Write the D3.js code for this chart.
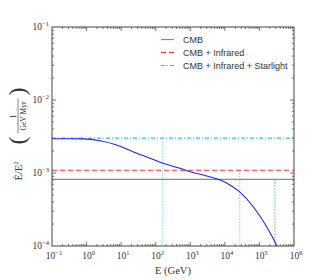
<!DOCTYPE html>
<html>
<head>
<meta charset="utf-8">
<script src="https://cdn.jsdelivr.net/npm/d3@7"></script>
<style>
  body { margin: 0; background: #fff; }
  text { fill: #333; }
</style>
</head>
<body>
<svg id="chart"></svg>
<script>
// chart size
const width = 320;
const height = 280;
const margin = { top: 27, right: 26, bottom: 34, left: 52 };

// energy loss curve (log10 E, log10 value)
const curveLogE = [-1, -0.5, -0.1, 0.39, 0.87, 1.34, 1.84, 2.21, 2.7, 3.0, 3.4, 3.81, 4.1, 4.42, 4.82, 5.21, 5.52];
const curveLogV = [-2.53, -2.53, -2.532, -2.558, -2.616, -2.708, -2.799, -2.867, -2.936, -2.982, -3.03, -3.086, -3.15, -3.256, -3.462, -3.736, -4.01];

// horizontal reference levels
const levelNames = ['CMB', 'CMB + Infrared', 'CMB + Infrared + Starlight'];
const levelValues = [8.2e-4, 1.09e-3, 3.0e-3];
// energies where the curve meets each level (vertical markers)
const crossEnergies = [2.8e5, 2.7e4, 1.6e2];

const xTicks = [1e-1, 1e0, 1e1, 1e2, 1e3, 1e4, 1e5, 1e6];
const yTicks = [1e-4, 1e-3, 1e-2, 1e-1];

const lineColors = ['#5aaa5a', '#ff3030', '#20d0d0'];
const markColors = ['#60b860', '#ff9a9a', '#70dede'];
const dashes = [null, '5,3', '4,2,1,2'];

const svg = d3.select('#chart')
  .attr('width', width)
  .attr('height', height);

const x = d3.scaleLog().domain([1e-1, 1e6]).range([margin.left, width - margin.right]);
const y = d3.scaleLog().domain([1e-4, 1e-1]).range([height - margin.bottom, margin.top]);

const serif = "'Liberation Serif', 'DejaVu Serif', serif";

// clip to plot area
svg.append('clipPath').attr('id', 'clip')
  .append('rect')
  .attr('x', x.range()[0]).attr('y', y.range()[1])
  .attr('width', x.range()[1] - x.range()[0])
  .attr('height', y.range()[0] - y.range()[1]);

const plot = svg.append('g').attr('clip-path', 'url(#clip)');

// vertical markers
crossEnergies.forEach((e, i) => {
  plot.append('line')
    .attr('x1', x(e)).attr('x2', x(e))
    .attr('y1', y(levelValues[i])).attr('y2', y(1e-4))
    .attr('stroke', markColors[i])
    .attr('stroke-width', 1)
    .attr('stroke-dasharray', '1.5,1.5');
});

// horizontal levels
levelValues.forEach((v, i) => {
  plot.append('line')
    .attr('x1', x(1e-1)).attr('x2', x(1e6))
    .attr('y1', y(v)).attr('y2', y(v))
    .attr('stroke', lineColors[i])
    .attr('stroke-width', 1.2)
    .attr('stroke-dasharray', dashes[i]);
});

// curve
const pts = curveLogE.map((e, i) => [Math.pow(10, e), Math.pow(10, curveLogV[i])]);
plot.append('path')
  .datum(pts)
  .attr('fill', 'none')
  .attr('stroke', '#2020ff')
  .attr('stroke-width', 1.1)
  .attr('d', d3.line().x(d => x(d[0])).y(d => y(d[1])).curve(d3.curveMonotoneX));

// ticks (inward, all four sides)
const x0 = x.range()[0], x1 = x.range()[1];
const yb = y.range()[0], yt = y.range()[1];
const ticks = svg.append('g').attr('stroke', '#555').attr('stroke-width', 0.8);

for (let d = -1; d < 6; d++) {
  for (let k = 1; k < 10; k++) {
    const v = k * Math.pow(10, d);
    const len = k === 1 ? 4 : 2;
    if (k === 1 && d === -1) continue;
    ticks.append('line').attr('x1', x(v)).attr('x2', x(v)).attr('y1', yb).attr('y2', yb - len);
    ticks.append('line').attr('x1', x(v)).attr('x2', x(v)).attr('y1', yt).attr('y2', yt + len);
  }
}
for (let d = -4; d < -1; d++) {
  for (let k = 1; k < 10; k++) {
    const v = k * Math.pow(10, d);
    const len = k === 1 ? 4 : 2;
    if (k === 1 && d === -4) continue;
    ticks.append('line').attr('x1', x0).attr('x2', x0 + len).attr('y1', y(v)).attr('y2', y(v));
    ticks.append('line').attr('x1', x1).attr('x2', x1 - len).attr('y1', y(v)).attr('y2', y(v));
  }
}

// frame
svg.append('rect')
  .attr('x', x0).attr('y', yt)
  .attr('width', x1 - x0).attr('height', yb - yt)
  .attr('fill', 'none')
  .attr('stroke', '#444')
  .attr('stroke-width', 1);

// power-of-ten label helper
function powLabel(g, exp, px, py, anchor) {
  const t = g.append('text')
    .attr('x', px).attr('y', py)
    .attr('text-anchor', anchor)
    .attr('font-family', serif)
    .attr('font-size', 9.5);
  t.append('tspan').text('10');
  t.append('tspan')
    .attr('dy', -4)
    .attr('font-size', 6.5)
    .text((exp < 0 ? '\u2212' : '') + Math.abs(exp));
}

const labels = svg.append('g');
xTicks.forEach(v => powLabel(labels, Math.round(Math.log10(v)), x(v) + 2, yb + 13, 'middle'));
yTicks.forEach(v => powLabel(labels, Math.round(Math.log10(v)), x0 - 3, y(v) + 3, 'end'));

// x axis title
svg.append('text')
  .attr('x', (x0 + x1) / 2).attr('y', yb + 28)
  .attr('text-anchor', 'middle')
  .attr('font-family', serif)
  .attr('font-size', 10.5)
  .text('E (GeV)');

// y axis title, rotated
const yl = svg.append('g')
  .attr('transform', `translate(18, ${(yt + yb) / 2}) rotate(-90)`)
  .attr('font-family', serif);
const t1 = yl.append('text').attr('x', -44).attr('y', 4).attr('font-size', 10.5);
t1.append('tspan').text('\u0116/E');
t1.append('tspan').attr('dy', -4).attr('font-size', 7).text('2');
yl.append('text').attr('x', -8).attr('y', 7).attr('font-size', 24).text('(');
yl.append('text').attr('x', 41).attr('y', 7).attr('font-size', 24).text(')');
yl.append('text').attr('x', 20).attr('y', -2.5).attr('text-anchor', 'middle').attr('font-size', 8).text('1');
yl.append('line').attr('x1', 3).attr('x2', 38).attr('y1', 0).attr('y2', 0).attr('stroke', '#333').attr('stroke-width', 0.6);
yl.append('text').attr('x', 20.5).attr('y', 7.5).attr('text-anchor', 'middle').attr('font-size', 7.5).text('GeV Myr');

// legend
const legend = svg.append('g').attr('font-family', "'Liberation Sans', Arial, sans-serif");
levelNames.forEach((name, i) => {
  const ly = 39.5 + i * 13;
  legend.append('line')
    .attr('x1', 161).attr('x2', 174)
    .attr('y1', ly).attr('y2', ly)
    .attr('stroke', lineColors[i])
    .attr('stroke-width', 1.2)
    .attr('stroke-dasharray', dashes[i]);
  legend.append('text')
    .attr('x', 183).attr('y', ly + 3.5)
    .attr('font-size', 9)
    .text(name);
});
</script>
</body>
</html>
